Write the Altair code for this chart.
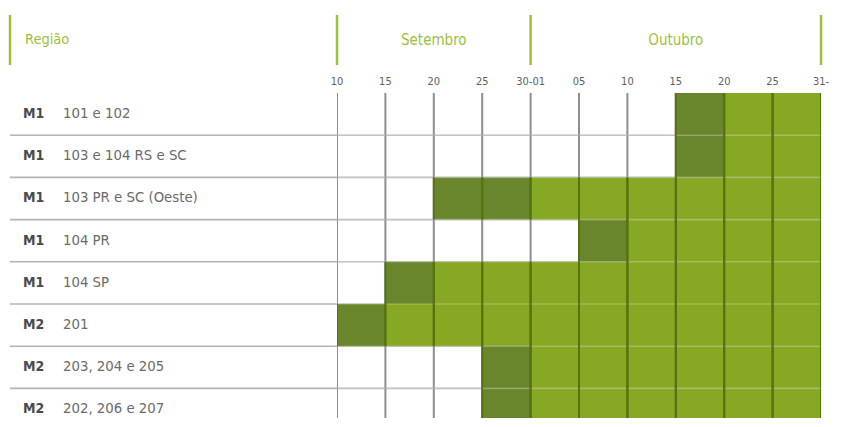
import altair as alt
import pandas as pd

# ---------------- data ----------------
row_codes = ["M1", "M1", "M1", "M1", "M1", "M2", "M2", "M2"]
row_names = ["101 e 102", "103 e 104 RS e SC", "103 PR e SC (Oeste)", "104 PR",
             "104 SP", "201", "203, 204 e 205", "202, 206 e 207"]
tick_labels = ["10", "15", "20", "25", "30-01", "05", "10", "15", "20", "25", "31-"]
# first 5-day period (column index) of each row, how many dark periods, end column (exclusive)
start_col = [7, 7, 2, 5, 1, 0, 3, 3]
dark_count = [1, 1, 2, 1, 1, 1, 1, 1]
end_col = [10, 10, 10, 10, 10, 10, 10, 10]
months = ["Setembro", "Outubro"]
month_start = [0, 4]
month_end = [4, 10]
header_label = "Região"

# ---------------- tables ----------------
cells = []
for i in range(len(row_names)):
    for c in range(start_col[i], end_col[i]):
        kind = "inicio" if c < start_col[i] + dark_count[i] else "periodo"
        cells.append({"c": c, "c2": c + 1, "r": i, "r2": i + 1, "kind": kind})
cells_df = pd.DataFrame(cells)

rows_df = pd.DataFrame({
    "mid": [i + 0.5 for i in range(len(row_names))],
    "code": row_codes,
    "name": row_names,
})
n_cols = len(tick_labels) - 1
seps_df = pd.DataFrame({"y": list(range(1, len(row_names))),
                        "c0": [0] * (len(row_names) - 1),
                        "c1": [n_cols] * (len(row_names) - 1)})
vl_df = pd.DataFrame({"pos": list(range(n_cols + 1)),
                      "y0": [0] * (n_cols + 1), "y1": [len(row_names)] * (n_cols + 1)})
ticks_df = pd.DataFrame({"pos": list(range(n_cols + 1)), "label": tick_labels})
months_df = pd.DataFrame({"mid": [(a + b) / 2 for a, b in zip(month_start, month_end)],
                          "name": months})
bounds_df = pd.DataFrame({"pos": sorted(set(month_start + month_end))})

# ---------------- layout ----------------
W = 484
ROW = 42.2
VISIBLE_ROWS = 7.7
H = ROW * VISIBLE_ROWS
FONT = "DejaVu Sans Condensed"
GREEN_HEAD = "#9cbf3c"

xs = alt.Scale(domain=[0, n_cols], nice=False, zero=False)
ys = alt.Scale(domain=[0, VISIBLE_ROWS], reverse=True, nice=False, zero=False)


def X(f):
    return alt.X(f, type="quantitative", scale=xs, axis=None)


def Y(f):
    return alt.Y(f, type="quantitative", scale=ys, axis=None)


hsep = alt.Chart(seps_df).mark_rule(color="#b4b4b4", strokeWidth=1.6).encode(
    x=alt.value(-327), x2=alt.value(W), y=Y("y"),
)

vlines = alt.Chart(vl_df).mark_rule(color="#8e8e8e", strokeWidth=2, clip=True).encode(
    x=X("pos"), y=Y("y0"), y2="y1",
)

cells_l = alt.Chart(cells_df).mark_rect(clip=True).encode(
    x=X("c"), x2="c2", y=Y("r"), y2="r2",
    color=alt.Color("kind:N", scale=alt.Scale(domain=["inicio", "periodo"],
                                              range=["#6a862c", "#86a823"]), legend=None),
)

hsep_green = alt.Chart(seps_df).mark_rule(color="white", strokeWidth=1.6, opacity=0.22,
                                          clip=True).encode(
    x=X("c0"), x2="c1", y=Y("y"),
)

cell_left = alt.Chart(cells_df).mark_rule(color="#55730f", strokeWidth=2, clip=True).encode(
    x=X("c"), y=Y("r"), y2="r2",
)
cell_right = alt.Chart(cells_df).mark_rule(color="#55730f", strokeWidth=2, clip=True).encode(
    x=X("c2"), y=Y("r"), y2="r2",
)

codes = alt.Chart(rows_df).mark_text(align="left", baseline="middle", font=FONT,
                                     fontSize=14, fontWeight="bold", color="#4a4a4a").encode(
    x=alt.value(-314), y=Y("mid"), text="code:N",
)
names = alt.Chart(rows_df).mark_text(align="left", baseline="middle", font=FONT,
                                     fontSize=14.8, color="#6a6a6a").encode(
    x=alt.value(-274), y=Y("mid"), text="name:N",
)

ticks = alt.Chart(ticks_df).mark_text(align="center", baseline="middle", font=FONT,
                                      fontSize=11, color="#5e5e5e").encode(
    x=X("pos"), y=alt.value(-11), text="label:N",
)

bounds = alt.Chart(bounds_df).mark_rule(color=GREEN_HEAD, strokeWidth=2.5).encode(
    x=X("pos"), y=alt.value(-78), y2=alt.value(-28),
)
head_line = alt.Chart(pd.DataFrame({"h": [header_label]})).mark_rule(
    color=GREEN_HEAD, strokeWidth=2.5).encode(
    x=alt.value(-327), y=alt.value(-78), y2=alt.value(-28),
)
head_text = alt.Chart(pd.DataFrame({"h": [header_label]})).mark_text(
    align="left", baseline="middle", font=FONT, fontSize=14.5, color=GREEN_HEAD).encode(
    x=alt.value(-312), y=alt.value(-53), text="h:N",
)
month_text = alt.Chart(months_df).mark_text(align="center", baseline="middle", font=FONT,
                                            fontSize=15, color=GREEN_HEAD).encode(
    x=X("mid"), y=alt.value(-53), text="name:N",
)

chart = alt.layer(
    hsep, vlines, cells_l, hsep_green, cell_left, cell_right,
    codes, names, ticks, bounds, head_line, head_text, month_text
).properties(
    width=W, height=H,
    autosize=alt.AutoSizeParams(type="none"),
    padding={"left": 329, "top": 85, "right": 25, "bottom": 0},
    background="white",
).configure_view(stroke=None)

chart.save("out.html", embed_options={"renderer": "svg", "actions": False})
